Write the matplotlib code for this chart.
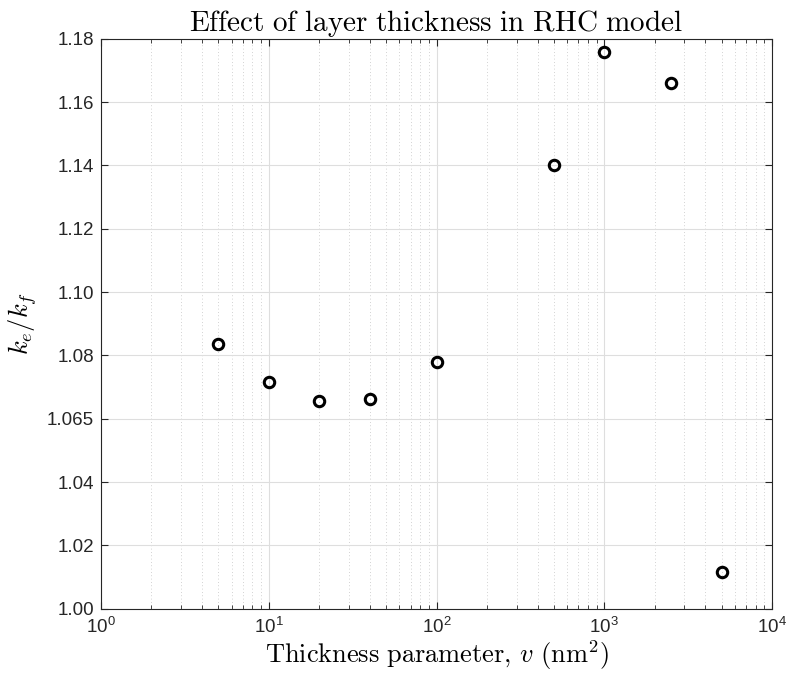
import matplotlib

matplotlib.use("Agg")
import matplotlib.pyplot as plt
from matplotlib.ticker import LogLocator, NullFormatter

plt.rcParams["font.family"] = ["Liberation Sans", "DejaVu Sans"]
plt.rcParams["mathtext.fontset"] = "cm"

# data
thickness = [5, 10, 20, 40, 100, 500, 1000, 2500, 5000]
ratio = [1.0836, 1.0717, 1.0655, 1.0662, 1.0778, 1.1401, 1.1757, 1.1661, 1.0117]

y_ticks = [1.00, 1.02, 1.04, 1.06, 1.08, 1.10, 1.12, 1.14, 1.16, 1.18]
y_tick_labels = ["1.00", "1.02", "1.04", "1.065", "1.08", "1.10", "1.12", "1.14", "1.16", "1.18"]

AX_COLOR = "#262626"

fig = plt.figure(figsize=(7.89, 6.79), dpi=100)
ax = fig.add_axes([0.128, 0.1035, 0.8505, 0.8395])

ax.plot(thickness, ratio, linestyle="none", marker="o", markersize=7.5,
        markerfacecolor="none", markeredgecolor="black", markeredgewidth=2.2, zorder=5)

ax.set_xscale("log")
ax.set_xlim(1, 1e4)
ax.set_ylim(1.0, 1.18)
ax.xaxis.set_major_locator(LogLocator(base=10, numticks=10))
ax.xaxis.set_minor_locator(LogLocator(base=10, subs=range(2, 10), numticks=20))
ax.xaxis.set_minor_formatter(NullFormatter())
ax.set_yticks(y_ticks)
ax.set_yticklabels(y_tick_labels)

ax.grid(which="major", color="#dedede", linewidth=0.8, linestyle="-")
ax.grid(which="minor", axis="x", color="#c4c4c4", linewidth=0.6, linestyle=(0, (1, 3)))
ax.set_axisbelow(True)

for sp in ax.spines.values():
    sp.set_color(AX_COLOR)
    sp.set_linewidth(0.8)
ax.tick_params(which="both", direction="in", top=True, right=True, colors=AX_COLOR,
               labelcolor=AX_COLOR, labelsize=13.5)
ax.tick_params(which="major", length=5, width=0.8)
ax.tick_params(which="minor", length=3, width=0.6)
ax.tick_params(axis="x", pad=6)
ax.tick_params(axis="y", pad=5)

ax.set_title(r"$\mathrm{Effect\ of\ layer\ thickness\ in\ RHC\ model}$", fontsize=21, pad=4)
ax.set_xlabel(r"$\mathrm{Thickness\ parameter,}\,v\ \mathrm{(nm^2)}$", fontsize=19, labelpad=1)
ax.set_ylabel(r"$k_e/k_f$", fontsize=19, labelpad=6)

fig.savefig("out.png", dpi=100)
